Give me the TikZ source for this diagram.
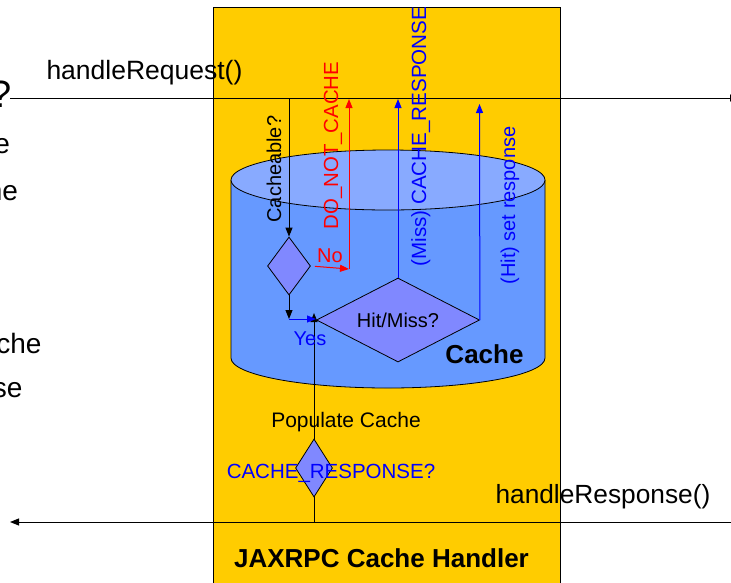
\documentclass[tikz,border=0pt]{standalone}
\usepackage{fontspec}
\setmainfont{Liberation Sans}
\usetikzlibrary{arrows.meta,shapes.geometric}
\definecolor{cyel}{HTML}{FFCC00}
\definecolor{cbody}{HTML}{6699FF}
\definecolor{ctop}{HTML}{88AAFF}
\definecolor{cdia}{HTML}{8088FF}
\definecolor{cblue}{HTML}{0000FF}
\definecolor{cred}{HTML}{FF0000}
\newcommand\myfs[1]{\fontsize{#1pt}{#1pt}\selectfont}
\begin{document}
\begin{tikzpicture}[x=1pt,y=-1pt,line width=1pt,
  tip/.style={-{Triangle[length=9pt,width=7pt]}},
  lbl/.style={inner sep=0pt,font=\myfs{20}},
  dia/.style={diamond,draw=black,fill=cdia,inner sep=0pt,line width=0.8pt},
  vlab/.style={lbl,rotate=90,anchor=base west}]
\useasboundingbox (0,0) rectangle (731,582);
% handler box
\fill[cyel] (213,7) rectangle (560.5,590);
\draw (213,590) -- (213,7) -- (560.5,7) -- (560.5,590);
% cache cylinder
\draw[fill=cbody,line width=0.8pt] (231,180) -- (231,358)
  arc[start angle=180,end angle=360,x radius=157pt,y radius=30pt] -- (545,180);
\draw[fill=ctop,line width=0.8pt] (388,180) ellipse [x radius=157pt,y radius=30pt];
% request / response lines
\coordinate (inL) at (10,98);
\coordinate (inR) at (739,98);
\draw[tip] (inL) -- (inR);
\coordinate (outR) at (740,522);
\coordinate (outL) at (10,522);
\draw[tip] (outR) -- (outL);
% populate line
\coordinate (pb) at (314,522);
\coordinate (ptop) at (314,313);
\draw[tip] (pb) -- (ptop);
% decision nodes
\node[dia,minimum width=43pt,minimum height=58pt] (cd) at (289,266) {};
\node[dia,aspect=2,minimum width=163pt,minimum height=84pt,font=\myfs{20}] (hm) at (398,320) {Hit/Miss?};
\node[dia,minimum width=37pt,minimum height=58pt] (cr) at (314,468) {};
% connectors
\coordinate (cA) at (289,98);
\draw[tip] (cA) -- (cd.north);
\coordinate (cY) at (289,319);
\draw[tip] (cd.south) -- (cY);
\coordinate (cYe) at (316,319);
\draw[tip,cblue] (cY) -- (cYe);
\coordinate (nA) at (349,269);
\coordinate (nB) at (349,99);
\draw[tip,cred,shorten <=4pt] (cd.east) -- (nA);
\draw[tip,cred] (nA) -- (nB);
\coordinate (mT) at (398,99);
\draw[tip,cblue] (hm.north) -- (mT);
\coordinate (hT) at (479.5,104);
\draw[tip,cblue] (hm.east) -- (hT);
% labels
\node[lbl,font=\myfs{26.5},anchor=base west] (hreq) at (46,79) {handleRequest()};
\node[lbl,font=\myfs{26.3},anchor=base west] (hresp) at (495,503) {handleResponse()};
\node[lbl,font=\myfs{26}\bfseries,anchor=base] (jax) at (381.5,567) {JAXRPC Cache Handler};
\node[lbl,font=\myfs{26}\bfseries,anchor=base] (cachel) at (484.5,363) {Cache};
\node[lbl,font=\myfs{21},anchor=base] (pop) at (346,427) {Populate Cache};
\node[lbl,cblue,font=\myfs{20.5},anchor=base] (crl) at (331,478) {CACHE\_RESPONSE?};
\node[lbl,cblue,anchor=base] (yes) at (310,345) {Yes};
\node[lbl,cred,anchor=base] (no) at (330,262) {No};
\node[vlab,cred,font=\myfs{20.4}] (dnc) at (338,230) {DO\_NOT\_CACHE};
\node[vlab] (cq) at (281,223) {Cacheable?};
\node[vlab,cblue,font=\myfs{20.6}] (miss) at (426,267) {(Miss) CACHE\_RESPONSE};
\node[vlab,cblue] (hit) at (515,285) {(Hit) set response};
% cut-off slide text on the left
\node[lbl,font=\myfs{38},anchor=base east] (q1) at (12,107) {?};
\node[lbl,font=\myfs{28},anchor=base east] (t1) at (10.5,153) {e};
\node[lbl,font=\myfs{28},anchor=base east] (t2) at (18.5,200) {ne};
\node[lbl,font=\myfs{28},anchor=base east] (t3) at (42,353) {che};
\node[lbl,font=\myfs{28},anchor=base east] (t4) at (23,397) {se};
\end{tikzpicture}
\end{document}
